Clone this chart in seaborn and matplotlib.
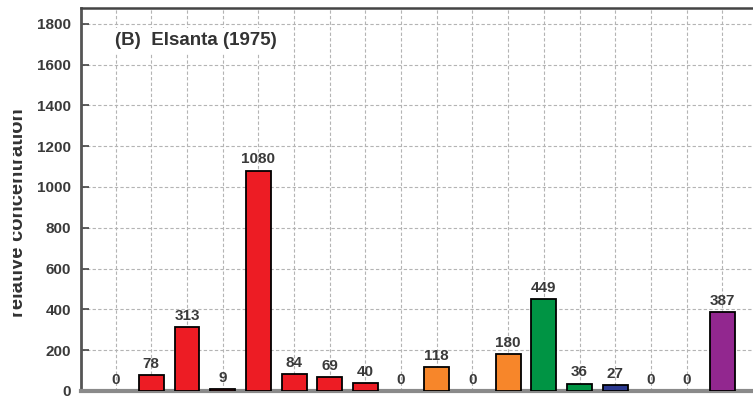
import matplotlib
matplotlib.use("Agg")
import matplotlib.pyplot as plt
from matplotlib.patches import Rectangle
import seaborn as sns
import pandas as pd

# Volatile compound groups for the Elsanta (1975) cultivar
compounds = [f"C{i+1}" for i in range(18)]
values = [0, 78, 313, 9, 1080, 84, 69, 40, 0, 118, 0, 180, 449, 36, 27, 0, 0, 387]
groups = ["esters"] * 9 + ["lactones"] * 3 + ["terpenes"] * 2 + ["furanones"] * 3 + ["acids"]
group_colors = {
    "esters": "#ED1C24",
    "lactones": "#F7862A",
    "terpenes": "#009444",
    "furanones": "#2B3990",
    "acids": "#92278F",
}
title = "(B)  Elsanta (1975)"
ylabel = "relative concentration"
yticks = [0, 200, 400, 600, 800, 1000, 1200, 1400, 1600, 1800]

df = pd.DataFrame({"compound": compounds, "value": values, "group": groups})

sns.set_style("white")
plt.rcParams["font.family"] = ["Liberation Sans", "DejaVu Sans"]

W, H = 753, 398
fig = plt.figure(figsize=(W / 100, H / 100), dpi=100)
ax = fig.add_axes([81 / W, (H - 391) / H, (W - 81) / W, (391 - 8) / H])

sns.barplot(
    data=df, x="compound", y="value", hue="group", palette=group_colors,
    dodge=False, width=0.7, edgecolor="black", linewidth=1.3, saturation=1,
    legend=False, ax=ax, zorder=3,
)
# empty bars carry no outline
for bar in ax.patches:
    if bar.get_height() == 0:
        bar.set_linewidth(0)

ax.set_xlim(-0.97, 17.86)
ax.set_ylim(0, 1877)
ax.set_yticks(yticks)
ax.set_yticklabels([str(t) for t in yticks], fontsize=11, fontweight="bold", color="#3a3a3a")
ax.set_xticks(range(len(compounds)))
ax.set_xticklabels([])
ax.tick_params(axis="x", length=0)
ax.tick_params(axis="y", direction="in", length=6, width=1.2, color="#444444", pad=7, left=True)
ax.set_xlabel("")
ax.set_ylabel("")

ax.grid(True, axis="both", linestyle=(0, (3, 2)), color="#b4b4b4", linewidth=0.8, zorder=0)
ax.set_axisbelow(True)

for side in ["left", "bottom", "top"]:
    ax.spines[side].set_visible(True)
ax.spines["right"].set_visible(False)
ax.spines["left"].set_color("#555555")
ax.spines["left"].set_linewidth(2.0)
ax.spines["bottom"].set_color("#8a8a8a")
ax.spines["bottom"].set_linewidth(3.0)
ax.spines["top"].set_color("#444444")
ax.spines["top"].set_linewidth(1.8)

# Value labels above each bar
for i, v in enumerate(values):
    ax.annotate(str(v), (i, v), xytext=(0, 3), textcoords="offset points",
                ha="center", va="bottom", fontsize=11, fontweight="bold",
                color="#3a3a3a", zorder=4)

ax.text(0.05, 0.915, title, transform=ax.transAxes, fontsize=13.5,
        fontweight="bold", color="#333333", ha="left", va="center",
        bbox=dict(facecolor="white", edgecolor="none", pad=3), zorder=5)

fig.text(23 / W, 1 - 213 / H, ylabel, rotation=90, rotation_mode="anchor",
         ha="center", va="baseline", fontsize=14.5, fontweight="bold", color="#333333")
# the page margin trims the outer edge of the axis title
fig.patches.append(Rectangle((0, 0), 13 / W, 1, transform=fig.transFigure,
                             facecolor="white", edgecolor="none", zorder=10))

fig.savefig("out.png", dpi=100)
